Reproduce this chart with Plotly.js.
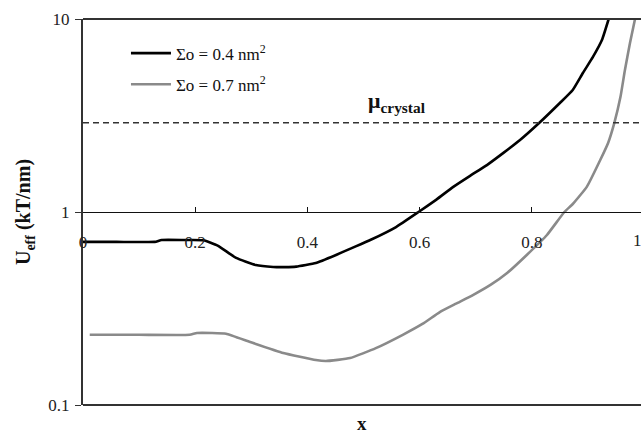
<!DOCTYPE html>
<html>
<head>
<meta charset="utf-8">
<script src="https://cdn.plot.ly/plotly-3.0.1.min.js"></script>
<style>html,body{margin:0;padding:0;background:#fff;}#chart{width:641px;height:434px;}</style>
</head>
<body>
<div id="chart"></div>
<script>
// Data
const seriesNames = ["Σo = 0.4 nm<sup>2</sup>", "Σo = 0.7 nm<sup>2</sup>"];
const x04 = [0, 0.06, 0.128, 0.140, 0.18, 0.215, 0.24, 0.273, 0.308, 0.339, 0.360, 0.380, 0.415, 0.451, 0.48, 0.512, 0.558, 0.598, 0.630, 0.660, 0.690, 0.720, 0.750, 0.779, 0.813, 0.850, 0.873, 0.891, 0.909, 0.925, 0.937];
const y04 = [0.70, 0.70, 0.70, 0.716, 0.716, 0.714, 0.670, 0.578, 0.531, 0.519, 0.518, 0.521, 0.544, 0.599, 0.652, 0.716, 0.836, 1.0, 1.16, 1.35, 1.54, 1.75, 2.03, 2.36, 2.89, 3.67, 4.29, 5.25, 6.36, 7.78, 10.0];
const x07 = [0.012, 0.10, 0.190, 0.203, 0.23, 0.255, 0.298, 0.357, 0.415, 0.433, 0.476, 0.522, 0.570, 0.605, 0.636, 0.665, 0.695, 0.727, 0.756, 0.791, 0.827, 0.858, 0.873, 0.898, 0.922, 0.936, 0.947, 0.958, 0.966, 0.975, 0.984];
const y07 = [0.231, 0.231, 0.231, 0.236, 0.236, 0.234, 0.212, 0.186, 0.171, 0.169, 0.175, 0.197, 0.231, 0.263, 0.303, 0.335, 0.371, 0.42, 0.483, 0.599, 0.760, 1.0, 1.10, 1.35, 1.86, 2.28, 2.89, 3.94, 5.44, 7.51, 10.0];
const muCrystal = 2.9;
const xTickVals = [0, 0.2, 0.4, 0.6, 0.8];
const xTickText = ["0", "0.2", "0.4", "0.6", "0.8"];
const yTickVals = [0.1, 1, 10];
const yTickText = ["0.1", "1", "10"];

const serif = "Times New Roman, Liberation Serif, serif";

const traces = [
  {x: x04, y: y04, name: seriesNames[0], mode: "lines", legendgroup: "a",
   line: {color: "#000000", width: 2.6, shape: "spline", smoothing: 0.4}},
  {x: x07, y: y07, name: seriesNames[1], mode: "lines", legendgroup: "b",
   line: {color: "#8a8a8a", width: 2.6, shape: "spline", smoothing: 0.4}}
];

const layout = {
  width: 641, height: 434,
  margin: {l: 83, r: 0, t: 19, b: 29, pad: 0},
  paper_bgcolor: "#ffffff", plot_bgcolor: "#ffffff",
  font: {family: serif, size: 15, color: "#111"},
  showlegend: true,
  legend: {x: 0.077, y: 0.957, xanchor: "left", yanchor: "top", bgcolor: "rgba(0,0,0,0)",
           font: {family: serif, size: 17, color: "#111"}, tracegroupgap: 6, itemwidth: 40},
  xaxis: {range: [0, 558/561], anchor: "free", position: 0.5, showline: true, linecolor: "#111", linewidth: 1.3,
          showgrid: false, zeroline: false, ticks: "inside", ticklen: 5, tickcolor: "#111", tickwidth: 1,
          tickvals: xTickVals, ticktext: xTickText, ticklabelstandoff: 14,
          tickfont: {family: serif, size: 17, color: "#222"}},
  yaxis: {type: "log", range: [-1, 1], showline: true, linecolor: "#333", linewidth: 2,
          showgrid: false, zeroline: false, ticks: "outside", ticklen: 6, tickcolor: "#333",
          tickvals: yTickVals, ticktext: yTickText, ticklabelstandoff: 2,
          tickfont: {family: serif, size: 17, color: "#222"},
          title: {text: "<b>U<sub>eff</sub> (kT/nm)</b>", font: {family: serif, size: 20, color: "#111"}, standoff: 12}},
  shapes: [
    {type: "line", xref: "paper", yref: "paper", x0: 0, x1: 1, y0: 1, y1: 1, line: {color: "#333", width: 2}},
    {type: "line", xref: "paper", yref: "paper", x0: 0, x1: 1, y0: 0, y1: 0, line: {color: "#333", width: 2}},
    {type: "line", xref: "paper", yref: "y", x0: 0, x1: 1, y0: muCrystal, y1: muCrystal, line: {color: "#333", width: 1.5, dash: "6px,4px"}}
  ],
  annotations: [
    {xref: "paper", yref: "paper", x: 0.563, y: 0.826, text: "<b>μ<sub>crystal</sub></b>", showarrow: false,
     font: {family: serif, size: 22, color: "#111"}},
    {xref: "paper", yref: "paper", x: 0.5, y: -0.049, text: "<b>x</b>", showarrow: false, yanchor: "middle",
     font: {family: serif, size: 19, color: "#111"}},
    {xref: "paper", yref: "paper", x: 1 + 3/558, y: 0.425, text: "1", showarrow: false, yanchor: "middle",
     font: {family: serif, size: 17, color: "#222"}}
  ]
};

Plotly.newPlot("chart", traces, layout, {displayModeBar: false, staticPlot: true});
</script>
</body>
</html>
